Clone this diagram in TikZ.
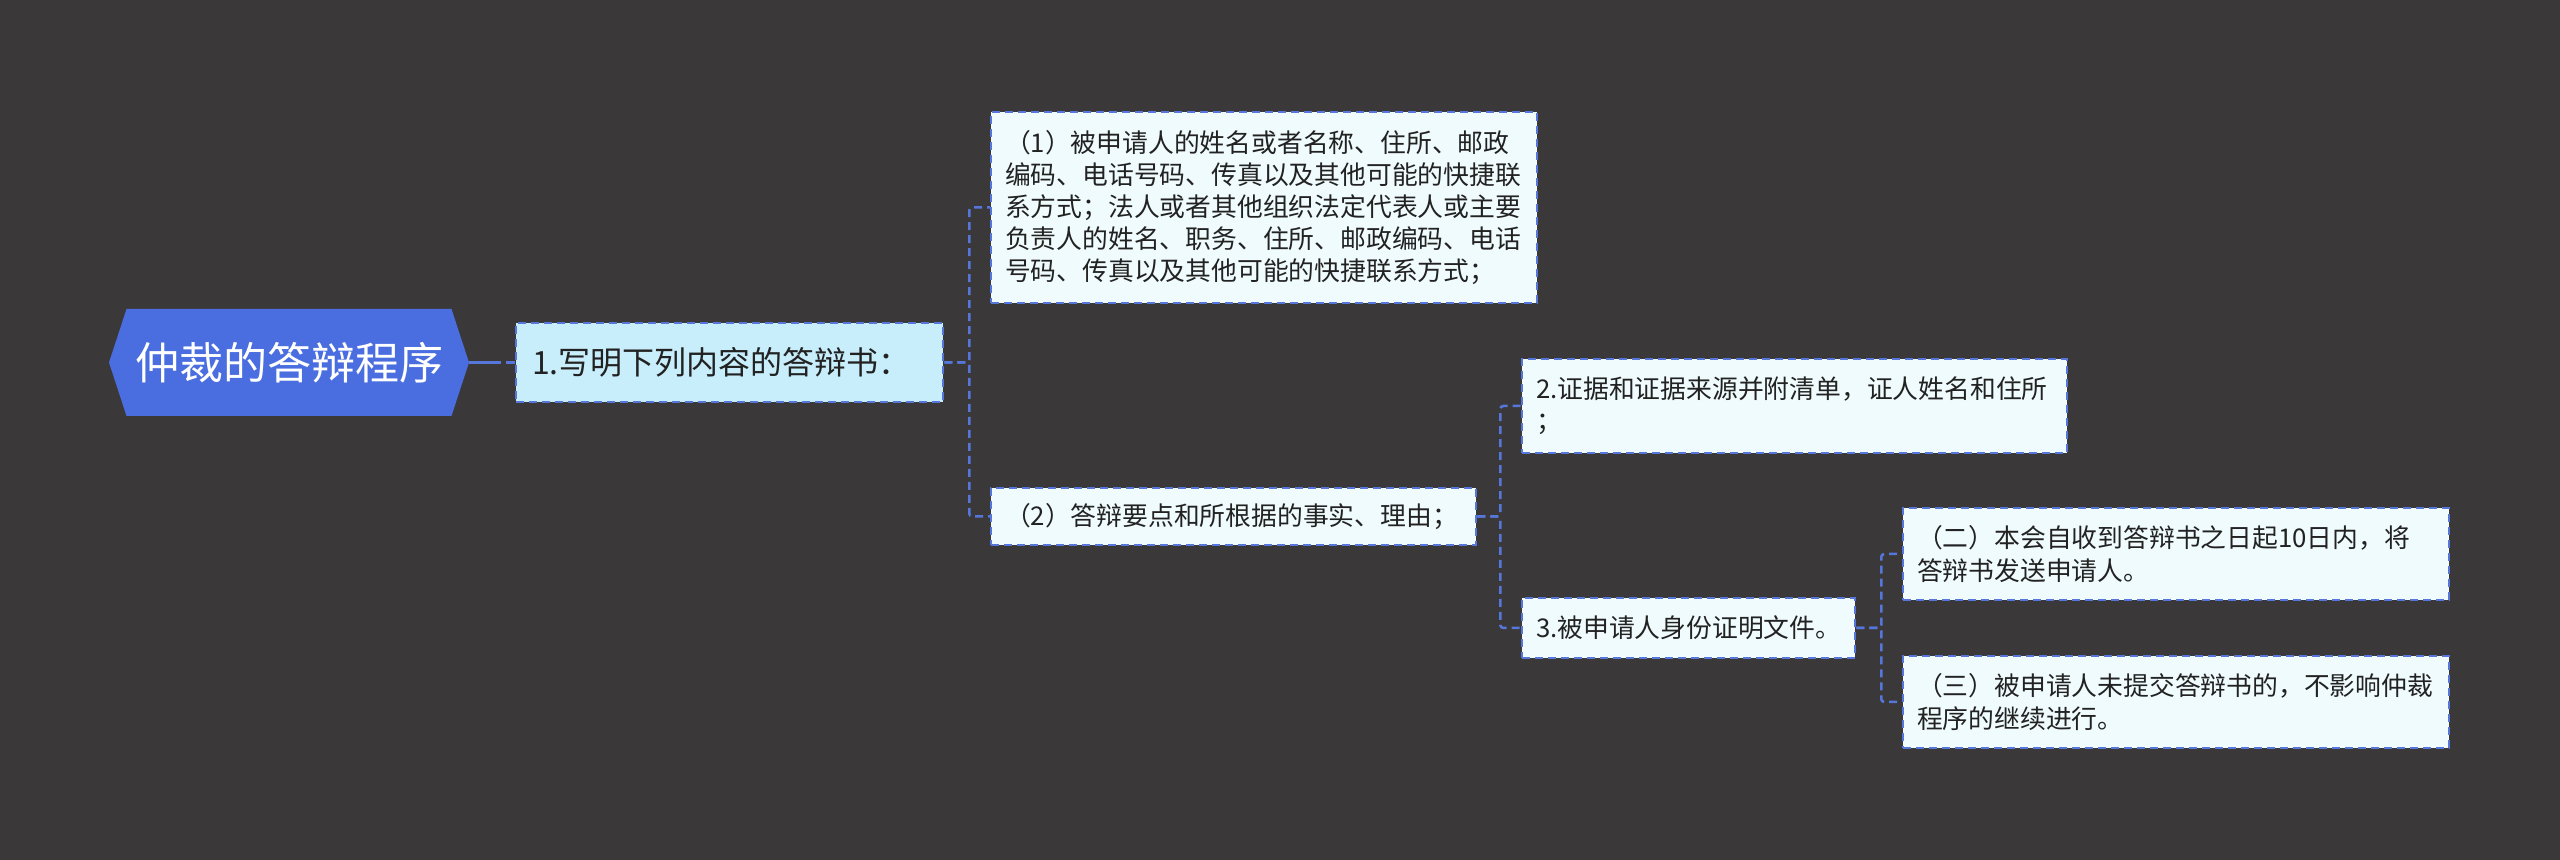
\documentclass[tikz,border=0pt]{standalone}
\usepackage{fontspec}
\newfontfamily\cjk{Noto Sans CJK SC}
\definecolor{bg}{HTML}{3A3839}
\definecolor{rootblue}{HTML}{4A6EE0}
\definecolor{linec}{HTML}{5676DA}
\definecolor{lightcyan}{HTML}{C8EEFC}
\definecolor{paleb}{HTML}{F0FBFD}
\definecolor{txt}{HTML}{222222}
\tikzset{
  box/.style={draw=linec, line width=1.25pt, dash pattern=on 4pt off 2.5pt,
    fill=paleb, rectangle, inner xsep=7pt, inner ysep=0pt, align=left,
    text=txt, font=\cjk\fontsize{12.9pt}{16.1pt}\selectfont},
  conn/.style={draw=linec, line width=1.25pt, dash pattern=on 4pt off 2.5pt, rounded corners=1.5pt},
}
\begin{document}
\begin{tikzpicture}[x=0.5pt,y=-0.5pt]
\useasboundingbox (0,0) rectangle (2560,860);
\fill[bg] (0,0) rectangle (2560,860);
% root hexagon
\fill[rootblue] (109,362.5) -- (126.5,309) -- (451.5,309) -- (469,362.5) -- (451.5,416) -- (126.5,416) -- cycle;
\node[rectangle, minimum width=180pt, minimum height=53.5pt, inner sep=0pt, text=white,
  font=\cjk\fontsize{22pt}{26pt}\selectfont] (root) at (289,362.5) {仲裁的答辩程序};
% level 1
\node[box, fill=lightcyan, minimum height=39.5pt, text width=213.5pt-16pt, inner xsep=8pt,
  font=\cjk\fontsize{16pt}{20pt}\selectfont] (b1) at (729.5,362.5) {1.写明下列内容的答辩书：};
% level 2
\node[box, minimum height=95.5pt, text width=273pt-14pt] (p1) at (1264,207.5)
  {（1）被申请人的姓名或者名称、住所、邮政\\编码、电话号码、传真以及其他可能的快捷联\\系方式；法人或者其他组织法定代表人或主要\\负责人的姓名、职务、住所、邮政编码、电话\\号码、传真以及其他可能的快捷联系方式；};
\node[box, minimum height=28.5pt, text width=242.5pt-14pt] (p2) at (1233.5,516.5)
  {（2）答辩要点和所根据的事实、理由；};
% level 3
\node[box, minimum height=47pt, text width=272.5pt-14pt] (c2) at (1794.5,406)
  {2.证据和证据来源并附清单，证人姓名和住所\\；};
\node[box, minimum height=30pt, text width=166.5pt-14pt] (c3) at (1688.5,628)
  {3.被申请人身份证明文件。};
% level 4
\node[box, minimum height=46pt, text width=273pt-14pt] (d2) at (2176,554)
  {（二）本会自收到答辩书之日起10日内，将\\答辩书发送申请人。};
\node[box, minimum height=46pt, text width=273pt-14pt] (d3) at (2176,702)
  {（三）被申请人未提交答辩书的，不影响仲裁\\程序的继续进行。};
% connectors
\draw[draw=linec, line width=1.6pt, dash pattern=on 16pt off 2.5pt on 6pt] (root.east) -- (b1.west);
\draw[conn] (b1.east) -- ++(25,0) |- (p1.west);
\draw[conn] (b1.east) -- ++(25,0) |- (p2.west);
\draw[conn] (p2.east) -- ++(23,0) |- (c2.west);
\draw[conn] (p2.east) -- ++(23,0) |- (c3.west);
\draw[conn] (c3.east) -- ++(25,0) |- (d2.west);
\draw[conn] (c3.east) -- ++(25,0) |- (d3.west);
\end{tikzpicture}
\end{document}
